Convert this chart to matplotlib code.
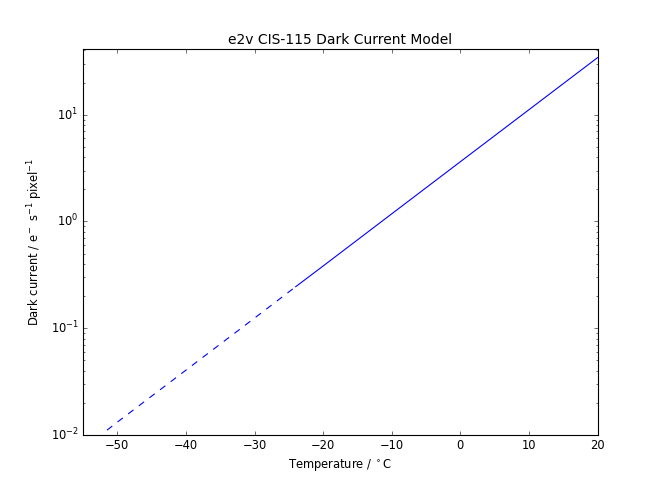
import matplotlib
matplotlib.use("Agg")
import matplotlib.pyplot as plt

plt.style.use("classic")

# values
temp_extrap = [-51.5, -50, -40, -30, -24]
dark_extrap = [0.0111, 0.0132, 0.0405, 0.1245, 0.245]
temp_model = [-24, -20, -10, 0, 10, 20]
dark_model = [0.245, 0.383, 1.18, 3.63, 11.15, 34.3]

plt.rcParams.update({
    "mathtext.fontset": "dejavusans",
    "mathtext.default": "regular",
    "font.size": 10.4,
    "axes.titlesize": 12.5,
    "axes.labelsize": 10.4,
    "xtick.labelsize": 10.4,
    "ytick.labelsize": 10.4,
})

fig = plt.figure(figsize=(8.3, 6.225), dpi=80)
fig.subplots_adjust(left=0.125, right=0.9, top=0.901, bottom=0.1265)
ax = fig.add_subplot(111)

ax.plot(temp_extrap, dark_extrap, color="b", linestyle="--")
ax.plot(temp_model, dark_model, color="b", linestyle="-")

ax.set_yscale("log")
ax.set_xlim(-55, 20)
ax.set_ylim(0.01, 41)
ax.set_xlabel(r"Temperature / $^\circ$C")
ax.set_ylabel(r"Dark current / e$^-$ s$^{-1}$ pixel$^{-1}$")
ax.set_title("e2v CIS-115 Dark Current Model")

fig.savefig("out.png", dpi=80)
